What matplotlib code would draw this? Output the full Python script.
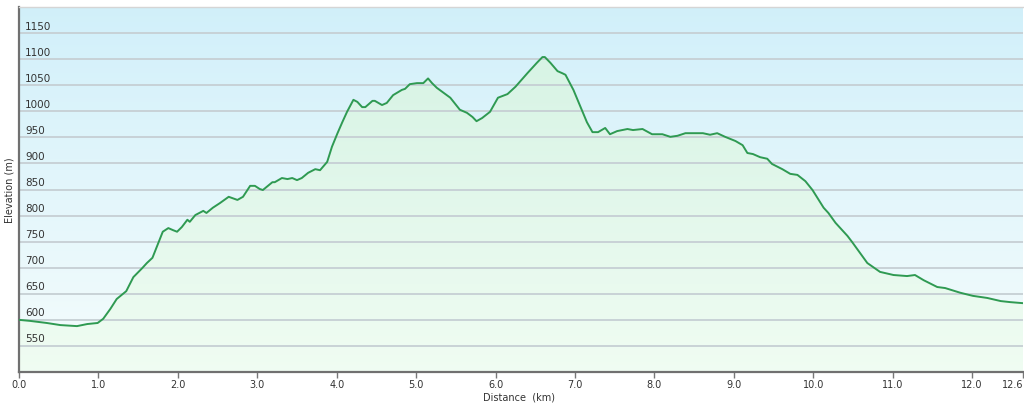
import numpy as np
import matplotlib
matplotlib.use("Agg")
import matplotlib.pyplot as plt
from matplotlib import transforms

# distance (km) and elevation (m)
dist = [0.00, 0.14, 0.35, 0.52, 0.73, 0.86, 0.99, 1.06, 1.15, 1.23, 1.35, 1.44,
        1.55, 1.61, 1.68, 1.81, 1.88, 1.94, 1.99, 2.05, 2.12, 2.15, 2.22, 2.32,
        2.36, 2.44, 2.53, 2.64, 2.75, 2.82, 2.91, 2.97, 3.03, 3.07, 3.19, 3.22,
        3.31, 3.38, 3.44, 3.50, 3.56, 3.64, 3.73, 3.79, 3.88, 3.94, 4.01, 4.07,
        4.13, 4.21, 4.26, 4.32, 4.36, 4.45, 4.48, 4.57, 4.63, 4.71, 4.82, 4.86,
        4.92, 5.01, 5.09, 5.15, 5.20, 5.26, 5.43, 5.55, 5.64, 5.71, 5.76, 5.83,
        5.93, 6.03, 6.15, 6.25, 6.40, 6.52, 6.59, 6.62, 6.69, 6.78, 6.84, 6.88,
        6.98, 7.07, 7.15, 7.22, 7.29, 7.38, 7.44, 7.53, 7.66, 7.73, 7.85, 7.97,
        8.10, 8.20, 8.29, 8.39, 8.51, 8.61, 8.70, 8.79, 8.89, 9.02, 9.11, 9.17,
        9.24, 9.33, 9.42, 9.48, 9.61, 9.71, 9.80, 9.90, 9.99, 10.13, 10.19,
        10.28, 10.43, 10.49, 10.59, 10.68, 10.84, 11.01, 11.18, 11.28, 11.39,
        11.56, 11.66, 11.85, 12.01, 12.19, 12.36, 12.48, 12.64]
elev = [600, 598, 594, 590, 588, 592, 594, 602, 621, 640, 655, 682,
        699, 709, 719, 769, 776, 772, 769, 778, 792, 788, 801, 809,
        805, 815, 824, 836, 830, 836, 857, 857, 851, 849, 864, 864,
        872, 870, 872, 868, 872, 882, 889, 887, 903, 932, 958, 979,
        999, 1022, 1018, 1008, 1008, 1020, 1020, 1012, 1016, 1031, 1041, 1043,
        1052, 1054, 1054, 1063, 1054, 1045, 1026, 1003, 997, 989, 981, 987,
        999, 1026, 1033, 1047, 1073, 1093, 1104, 1104, 1093, 1077, 1073, 1070,
        1041, 1008, 979, 960, 960, 968, 956, 962, 966, 964, 966, 956,
        956, 951, 953, 958, 958, 958, 955, 958, 951, 943, 935, 920,
        918, 912, 909, 899, 889, 880, 878, 866, 849, 815, 805,
        786, 761, 749, 728, 709, 692, 686, 684, 686, 676,
        663, 661, 652, 646, 642, 636, 634, 632]

xticks = [0, 1, 2, 3, 4, 5, 6, 7, 8, 9, 10, 11, 12, 12.64]
xlabels = ["0.0", "1.0", "2.0", "3.0", "4.0", "5.0", "6.0", "7.0", "8.0",
           "9.0", "10.0", "11.0", "12.0", "12.6"]
ygrid = [550, 600, 650, 700, 750, 800, 850, 900, 950, 1000, 1050, 1100, 1150]

xmin, xmax, ymin, ymax = 0, 12.64, 500, 1200

fig = plt.figure(figsize=(10.24, 4.05), dpi=100)
ax = fig.add_axes([19 / 1024, 33 / 405, 1004 / 1024, 365 / 405])
ax.set_xlim(xmin, xmax)
ax.set_ylim(ymin, ymax)

# background: light blue fading down to almost white
t = np.linspace(0, 1, 256)[:, None]
bg = np.zeros((256, 1, 3))
top_c = np.array([0.82, 0.94, 0.98])
bot_c = np.array([0.96, 0.99, 0.99])
bg[:, 0, :] = top_c * (1 - t) + bot_c * t
ax.imshow(bg, extent=[xmin, xmax, ymin, ymax], aspect="auto", origin="upper",
          zorder=0, interpolation="bilinear")

# green gradient under the profile
gr = np.zeros((256, 1, 3))
g_top = np.array([0.83, 0.95, 0.89])
g_bot = np.array([0.94, 0.99, 0.95])
gr[:, 0, :] = g_top * (1 - t) + g_bot * t
im = ax.imshow(gr, extent=[xmin, xmax, ymin, ymax], aspect="auto", origin="upper",
               zorder=1, interpolation="bilinear")
poly = ax.fill_between(dist, elev, ymin, color="none", lw=0)
im.set_clip_path(poly.get_paths()[0], transform=ax.transData)

trans = transforms.blended_transform_factory(ax.transAxes, ax.transData)
for g in ygrid:
    ax.axhline(g, color="#c6cfd4", lw=1.3, zorder=2)
    ax.text(0.006, g + 3, str(g), transform=trans,
            fontsize=7.5, color="#333333", ha="left", va="bottom", zorder=3)

ax.plot(dist, elev, color="#2f9a52", lw=1.4, zorder=4)

ax.set_yticks([])
ax.set_xticks(xticks)
ax.set_xticklabels(xlabels, fontsize=7, color="#333333")
ax.get_xticklabels()[-1].set_horizontalalignment("right")
ax.tick_params(axis="x", direction="out", length=4, width=1, color="#777777", pad=2)

for s in ["left", "bottom"]:
    ax.spines[s].set_color("#707070")
    ax.spines[s].set_linewidth(1.6)
ax.spines["top"].set_color("#d5d5d5")
ax.spines["top"].set_linewidth(1)
ax.spines["right"].set_visible(False)

fig.text(519 / 1024, 1 - 398 / 405, "Distance  (km)", fontsize=7,
         color="#333333", ha="center", va="center")
fig.text(10 / 1024, 1 - 190 / 405, "Elevation (m)", rotation=90, fontsize=7,
         color="#333333", ha="center", va="center")

fig.savefig("out.png", dpi=100)
